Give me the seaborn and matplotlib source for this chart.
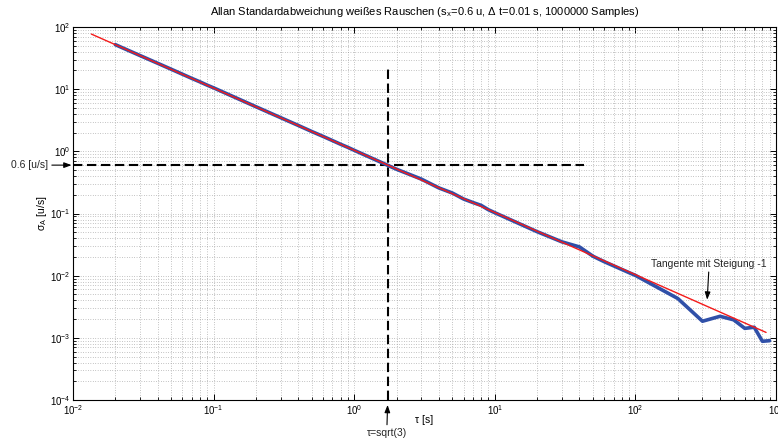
import matplotlib
matplotlib.use("Agg")
import matplotlib.pyplot as plt
import pandas as pd
import seaborn as sns

# Allan deviation of the simulated white-noise run (tau in s, sigma in u/s)
tau_adev = [0.02, 0.03, 0.04, 0.05, 0.06, 0.07, 0.08, 0.09,
            0.1, 0.2, 0.3, 0.4, 0.5, 0.6, 0.7, 0.8, 0.9,
            1, 2, 3, 4, 5, 6, 7, 8, 9,
            10, 20, 30, 40, 50, 60, 70, 80, 90,
            100, 200, 300, 400, 500, 600, 700, 800, 900]
sigma_adev = [52.0, 34.7, 26.1, 20.9, 17.4, 14.9, 13.1, 11.6,
              10.5, 5.22, 3.48, 2.61, 2.08, 1.74, 1.49, 1.30, 1.16,
              1.04, 0.515, 0.358, 0.258, 0.213, 0.171, 0.150, 0.135, 0.115,
              0.103, 0.051, 0.035, 0.029, 0.0205, 0.0168, 0.0144, 0.0126, 0.0112,
              0.0101, 0.0043, 0.00185, 0.00222, 0.00195, 0.00142, 0.00148, 0.00088, 0.00090]

# Tangent with slope -1 through (sqrt(3), 0.6)
tau_tangent = [0.0135, 850.0]
sigma_tangent = [77.0, 1.222e-3]

# Guide lines marking the read-off point
sigma_level = 0.6
tau_level = 1.7320508
hline_tau = [0.01, 43.0]
vline_sigma = [1e-4, 22.0]

x_limits = (1e-2, 1e3)
y_limits = (1e-4, 1e2)

title_text = ("Allan Standardabweichung weißes Rauschen "
              "(s$_\\mathrm{x}$=0.6 u, Δ t=0.01 s, 1000000 Samples)")

sns.set_theme(style="white")
plt.rcParams["font.family"] = ["Liberation Sans", "DejaVu Sans"]
plt.rcParams["mathtext.fontset"] = "custom"
plt.rcParams["mathtext.rm"] = "Liberation Sans"
plt.rcParams["mathtext.it"] = "Liberation Sans:italic"
plt.rcParams["mathtext.bf"] = "Liberation Sans:bold"

fig = plt.figure(figsize=(7.78, 4.41), dpi=100)
ax = fig.add_axes([73 / 778, 41 / 441, 703 / 778, 373 / 441])
ax.set_xscale("log")
ax.set_yscale("log")

adev = pd.DataFrame({"tau": tau_adev, "sigma": sigma_adev})
tangent = pd.DataFrame({"tau": tau_tangent, "sigma": sigma_tangent})

sns.lineplot(data=adev, x="tau", y="sigma", ax=ax, color="#3050a8",
             linewidth=2.6, estimator=None, sort=False, zorder=3)
sns.lineplot(data=tangent, x="tau", y="sigma", ax=ax, color="#f41a1a",
             linewidth=1.0, estimator=None, sort=False, zorder=4)

ax.plot(hline_tau, [sigma_level, sigma_level], color="black", lw=1.5,
        dashes=(4.5, 2.2), zorder=2)
ax.plot([tau_level, tau_level], vline_sigma, color="black", lw=1.5,
        dashes=(4.5, 2.2), zorder=2)

ax.set_xlim(*x_limits)
ax.set_ylim(*y_limits)

ax.grid(True, which="both", linestyle=(0, (1, 2.5)), color="0.55", linewidth=0.5)
for sp in ax.spines.values():
    sp.set_color("black")
    sp.set_linewidth(0.8)
ax.tick_params(which="both", direction="in", top=True, right=True,
               bottom=True, left=True, colors="black", labelsize=7, pad=2.5)
ax.tick_params(which="major", length=4, width=0.7)
ax.tick_params(which="minor", length=2.5, width=0.6)
ax.tick_params(axis="y", pad=2)

ax.set_xlabel("τ [s]", fontsize=7.5, color="black")
ax.set_ylabel("σ$_\\mathrm{A}$ [u/s]", fontsize=7.5, color="black")
ax.xaxis.set_label_coords(0.5, -0.040)
ax.yaxis.set_label_coords(-0.034, 0.5)

fig.text(425 / 778, 1 - 12 / 441, title_text, ha="center", va="center",
         fontsize=8, color="black")

arrow = dict(arrowstyle="-|>,head_length=0.6,head_width=0.22", color="black",
             lw=0.8, shrinkA=0)

ax.annotate("0.6 [u/s]", xy=(x_limits[0], sigma_level), xycoords="data",
            xytext=(-43, 0), textcoords="offset pixels", ha="center", va="center",
            fontsize=7.5, annotation_clip=False,
            arrowprops=dict(arrow, shrinkB=1))
ax.annotate("τ=sqrt(3)", xy=(tau_level, y_limits[0]), xycoords="data",
            xytext=(-1, -33), textcoords="offset pixels", ha="center", va="center",
            fontsize=7.5, annotation_clip=False,
            arrowprops=dict(arrow, shrinkB=3.5))
ax.annotate("Tangente mit Steigung -1", xy=(324, 4.1e-3), xycoords="data",
            xytext=(2, 36), textcoords="offset pixels", ha="center", va="center",
            fontsize=7.5, annotation_clip=False,
            arrowprops=dict(arrow, shrinkB=0))

fig.savefig("out.png", dpi=100)
